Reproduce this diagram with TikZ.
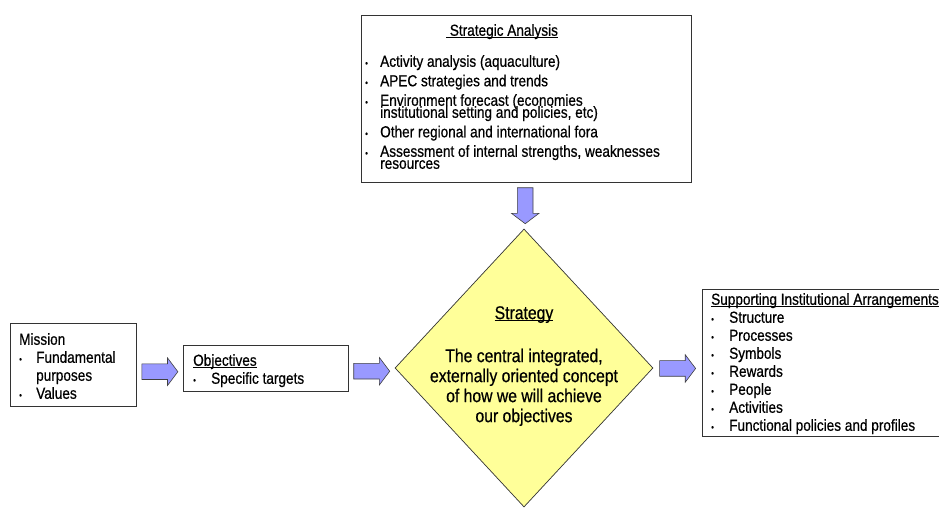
\documentclass[tikz,border=0pt]{standalone}
\usepackage{fontspec}
\setmainfont{Liberation Sans}[FakeStretch=0.85, FakeBold=0.6]
\usetikzlibrary{shapes.geometric, shapes.arrows, calc}

\definecolor{arrowblue}{RGB}{153,153,255}
\definecolor{diamondyellow}{RGB}{255,255,153}

% small bullet in a fixed-width slot
\newcommand\bul[1][15pt]{\makebox[#1][l]{\raisebox{0.5pt}{\fontsize{9}{9}\selectfont •}}}
% underline that cuts through the descenders
\newcommand\undl[1]{\setbox0\hbox{#1}\rlap{\rule[-2.2pt]{\wd0}{0.9pt}}\box0}
% lines closer than the glyphs allow
\newcommand\tightlines{\lineskiplimit=-20pt\relax}

\begin{document}
\begin{tikzpicture}[x=1pt, y=-1pt,
  panel/.style={draw=black!80, line width=0.9pt, fill=white, inner sep=0pt, anchor=north west},
  txt/.style={anchor=north west, align=left, inner sep=0pt, font=\fontsize{16}{18}\selectfont},
  blockarrow/.style={single arrow, draw=black!75, fill=arrowblue, line width=0.6pt,
    minimum height=36pt, minimum width=27pt, single arrow head extend=6pt,
    single arrow tip angle=106, inner xsep=0pt, inner ysep=7.5pt}]
\useasboundingbox (0,0) rectangle (939,508);

% strategic analysis on top
\node[panel, minimum width=330pt, minimum height=167pt] (analysis) at (361,15) {};
\node[txt, anchor=north] (analysistitle) at (502,24) {\undl{\ Strategic Analysis}};
\node[txt, font=\fontsize{16}{12}\selectfont\tightlines] (analysislist) at (365,55) {%
  \bul Activity analysis (aquaculture)\\[7.5pt]
  \bul APEC strategies and trends\\[7.5pt]
  \bul Environment forecast (economies\\
  \hspace*{15pt}institutional setting and policies, etc)\\[7.5pt]
  \bul Other regional and international fora\\[7.5pt]
  \bul Assessment of internal strengths, weaknesses\\
  \hspace*{15pt}resources};

% strategy diamond
\node[diamond, draw=black!80, fill=diamondyellow, line width=0.7pt,
  minimum width=258pt, minimum height=278pt, inner sep=0pt] (strategy) at (524,368) {};
\node[txt, anchor=north, align=center, font=\fontsize{18.5}{20}\selectfont] (strategytext) at (524,306) {%
  \undl{Strategy}\\[23pt]
  The central integrated,\\
  externally oriented concept\\
  of how we will achieve\\
  our objectives};

% mission and objectives on the left
\node[panel, minimum width=126pt, minimum height=83pt] (mission) at (10,323) {};
\node[txt] (missiontext) at (19,333) {%
  Mission\\
  \bul[17pt]Fundamental\\
  \hspace*{17pt}purposes\\
  \bul[17pt]Values};
\node[panel, minimum width=165pt, minimum height=46pt] (objectives) at (183,345) {};
\node[txt] (objectivestext) at (193,354) {%
  \undl{Objectives}\\
  \bul[18pt]Specific targets};

% supporting arrangements on the right
\node[panel, minimum width=250pt, minimum height=147pt] (support) at (702,289) {};
\node[txt] (supporttext) at (711,293) {%
  \undl{Supporting Institutional Arrangements}\\
  \bul[18pt]Structure\\
  \bul[18pt]Processes\\
  \bul[18pt]Symbols\\
  \bul[18pt]Rewards\\
  \bul[18pt]People\\
  \bul[18pt]Activities\\
  \bul[18pt]Functional policies and profiles};

% block arrows between the boxes
\node[blockarrow, shape border rotate=270, inner xsep=7.5pt, inner ysep=0pt] (arrowdown)
  at ($(analysis.south)!0.5!(strategy.north)+(0,-3)$) {};
\node[blockarrow] (arrowmission) at ($(mission.east)!0.5!(objectives.west)+(-3,5)$) {};
\node[blockarrow] (arrowobjectives) at ($(objectives.east)!0.5!(strategy.west)+(-3,3)$) {};
\node[blockarrow] (arrowsupport) at ($(strategy.east)!0.5!(support.west)+(-3,3)$) {};
\end{tikzpicture}
\end{document}
